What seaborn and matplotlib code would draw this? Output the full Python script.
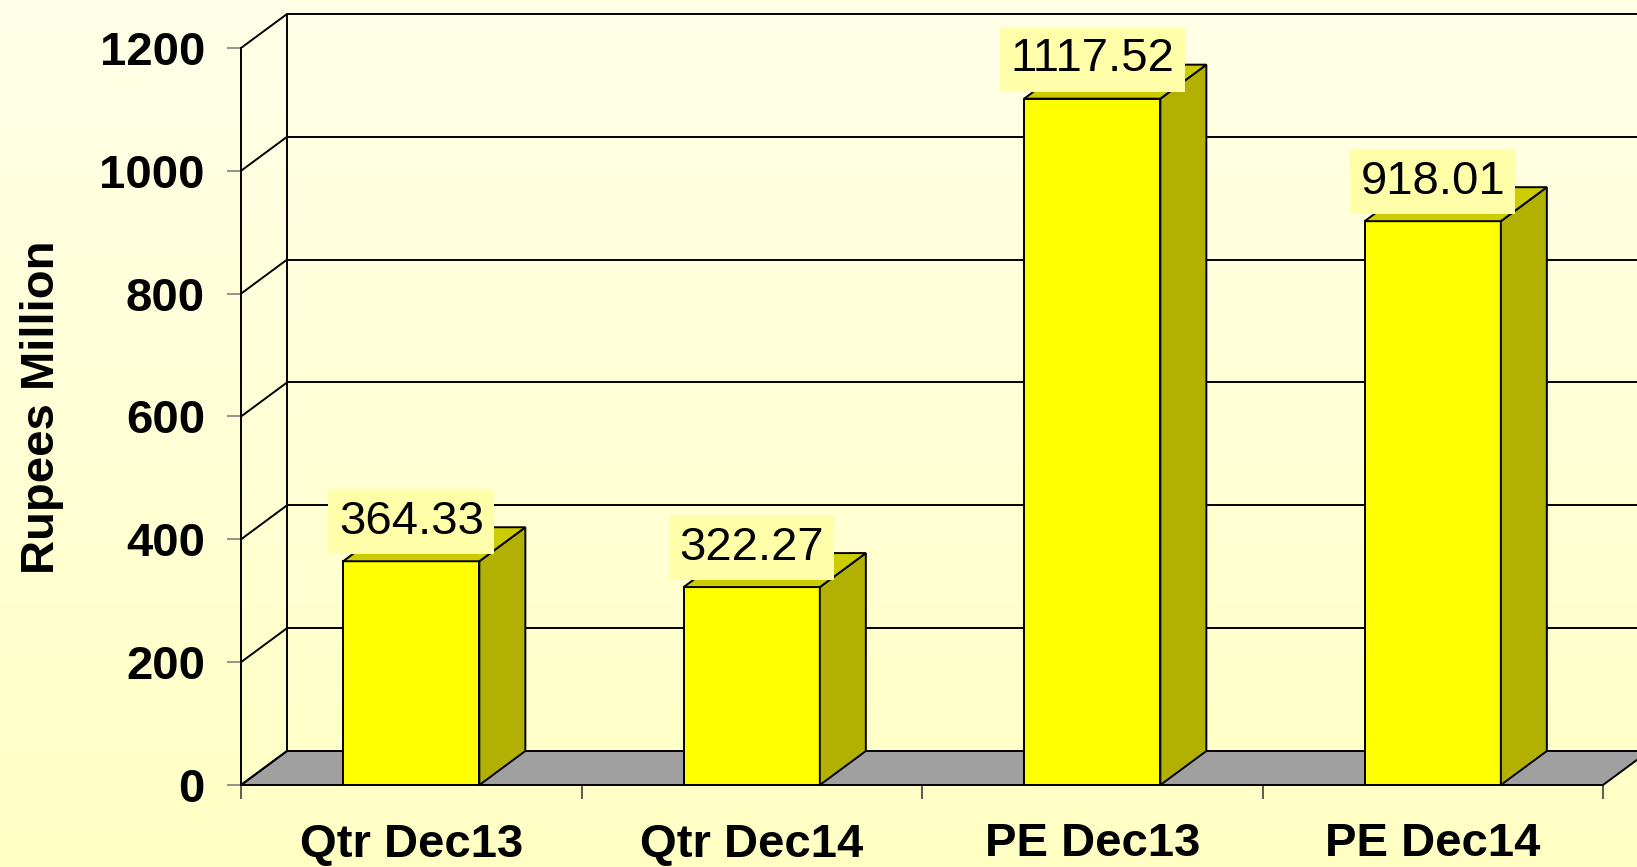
import numpy as np
import pandas as pd
import seaborn as sns
import matplotlib.pyplot as plt
from matplotlib.patches import Polygon
from matplotlib.colors import LinearSegmentedColormap

# Chart data
categories = ['Qtr Dec13', 'Qtr Dec14', 'PE Dec13', 'PE Dec14']
values = [364.33, 322.27, 1117.52, 918.01]
y_ticks = [0, 200, 400, 600, 800, 1000, 1200]

df = pd.DataFrame({'period': categories, 'rupees': values})

sns.set_theme(style='white')
plt.rcParams['font.family'] = ['Liberation Sans', 'DejaVu Sans']
plt.rcParams['text.color'] = 'black'
plt.rcParams['axes.labelcolor'] = 'black'

W, H = 1637, 867
fig = plt.figure(figsize=(W / 100, H / 100), dpi=100)

# Soft yellow gradient background
bg = fig.add_axes([0, 0, 1, 1], zorder=-10)
grad = np.linspace(0, 1, 256).reshape(-1, 1)
cmap = LinearSegmentedColormap.from_list('bg', ['#FFFFE8', '#FFFFC4'])
bg.imshow(grad, aspect='auto', cmap=cmap, extent=[0, 1, 0, 1], origin='upper')
bg.axis('off')

# Main axes = front plane of the 3D box
ax = fig.add_axes([241 / W, (H - 785) / H, 1362 / W, 737 / H])
ax.set_facecolor('none')
sns.barplot(data=df, x='period', y='rupees', color='#FFFF00', width=0.4,
            saturation=1, edgecolor='black', linewidth=1.4, ax=ax, zorder=5)
ax.set_xlim(-0.5, 3.5)
ax.set_ylim(0, 1200)

# depth offset (in data units)
dx = 46 / (1362 / 4)
dy = 34 / (737 / 1200)
lw = 1.4

# floor
ax.add_patch(Polygon([(-0.5, 0), (3.5, 0), (3.5 + dx, dy), (-0.5 + dx, dy)],
                     closed=True, fc='#A0A0A0', ec='black', lw=lw, clip_on=False, zorder=1))

# back wall gridlines and left wall
for v in y_ticks:
    if v > 0:
        ax.plot([-0.5 + dx, 3.6 + dx], [v + dy, v + dy], color='black', lw=lw, clip_on=False, zorder=2)
    ax.plot([-0.5, -0.5 + dx], [v, v + dy], color='black', lw=lw, clip_on=False, zorder=2)
ax.plot([-0.5 + dx, -0.5 + dx], [dy, 1200 + dy], color='black', lw=lw, clip_on=False, zorder=2)

# 3D sides, tops and value labels
for p, v in zip(ax.patches, values):
    x0, w, h = p.get_x(), p.get_width(), p.get_height()
    side = [(x0 + w, 0), (x0 + w + dx, dy), (x0 + w + dx, h + dy), (x0 + w, h)]
    top = [(x0, h), (x0 + w, h), (x0 + w + dx, h + dy), (x0 + dx, h + dy)]
    ax.add_patch(Polygon(side, closed=True, fc='#B2B000', ec='black', lw=lw, clip_on=False, zorder=5))
    ax.add_patch(Polygon(top, closed=True, fc='#CCCC00', ec='black', lw=lw, clip_on=False, zorder=5))
    ax.text(x0 + w / 2, h + 64, f'{v:.2f}', ha='center', va='center', fontsize=34, color='black',
            bbox=dict(boxstyle='square,pad=0.22', fc='#FFFFAA', ec='none'), zorder=8)

# axes styling
for s in ['top', 'right', 'bottom']:
    ax.spines[s].set_visible(False)
ax.spines['left'].set_color('black')
ax.spines['left'].set_linewidth(lw)
ax.spines['left'].set_zorder(3)

ax.set_yticks(y_ticks)
ax.set_yticklabels([str(t) for t in y_ticks], fontweight='bold')
ax.tick_params(axis='y', length=10, width=1.2, color='#808080', labelcolor='black',
               pad=16, labelsize=34, left=True)

ax.set_xticks(range(len(categories)))
ax.set_xticklabels(categories, fontweight='bold')
ax.set_xticks(np.arange(-0.5, 4, 1), minor=True)
ax.tick_params(axis='x', which='major', length=0, pad=27, labelsize=34, labelcolor='black')
ax.tick_params(axis='x', which='minor', length=10, width=1.2, color='#404040', bottom=True)

ax.set_xlabel('')
ax.set_ylabel('Rupees Million', fontsize=34, fontweight='bold', color='black')
ax.yaxis.set_label_coords((42 - 241) / 1362, 0.513)
ax.yaxis.label.set_verticalalignment('center')
ax.grid(False)

plt.savefig('out.png', dpi=100)
